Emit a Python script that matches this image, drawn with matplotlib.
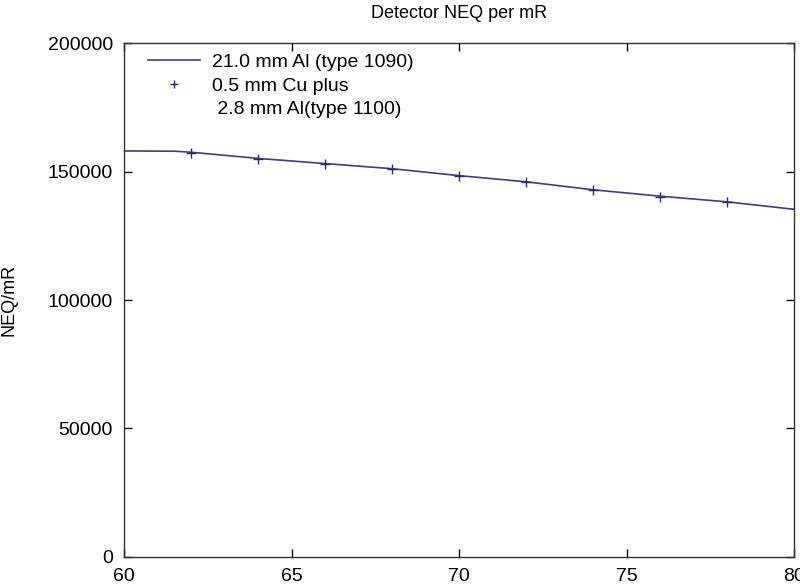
import matplotlib
matplotlib.use("Agg")
import matplotlib.pyplot as plt
from matplotlib.lines import Line2D

plt.rcParams['font.family'] = ['Liberation Sans', 'DejaVu Sans']

title = "Detector NEQ per mR"
ylabel = "NEQ/mR"
line_label = "21.0 mm Al (type 1090)"
pts_label = "0.5 mm Cu plus"
pts_label2 = " 2.8 mm Al(type 1100)"

line_kvp = [60, 61.5, 62, 64, 66, 68, 70, 72, 74, 76, 78, 80]
line_neq = [158000, 157900, 157500, 155100, 153100, 151100, 148400, 146000, 142900, 140400, 138200, 135300]

pts_kvp = [62, 64, 66, 68, 70, 72, 74, 76, 78]
pts_neq = [157100, 155000, 153000, 151000, 148300, 145900, 142800, 140100, 138100]

xticks = [60, 65, 70, 75, 80]
yticks = [0, 50000, 100000, 150000, 200000]

fig = plt.figure(figsize=(8, 5.86), dpi=100)
ax = fig.add_axes([0.155, 0.0495, 0.8375, 0.8771])

l1, = ax.plot(line_kvp, line_neq, color='#3c3c8c', lw=1.2)
p1, = ax.plot(pts_kvp, pts_neq, ls='none', marker='+', ms=7, mew=1.0, color='#2a2a70')
blank = Line2D([], [], ls='none', marker=None)

ax.set_xlim(60, 80)
ax.set_ylim(0, 200000)
ax.set_xticks(xticks)
ax.set_yticks(yticks)
ax.set_xticklabels([str(v) for v in xticks])
ax.set_yticklabels([str(v) for v in yticks])
ax.tick_params(direction='in', top=True, right=True, length=6, width=1, labelsize=14, pad=8)
for s in ax.spines.values():
    s.set_linewidth(1.0)
    s.set_color('#333333')

ax.set_title(title, fontsize=13, pad=18)
ax.set_ylabel(ylabel, fontsize=13, labelpad=22)

leg = ax.legend([l1, p1, blank], [line_label, pts_label, pts_label2],
                loc='upper left', frameon=False, fontsize=14, handlelength=2.7,
                borderaxespad=0.3, labelspacing=0.3, handletextpad=0.6,
                markerscale=0.8, bbox_to_anchor=(0.015, 1.006))

fig.savefig('out.png', dpi=100)
